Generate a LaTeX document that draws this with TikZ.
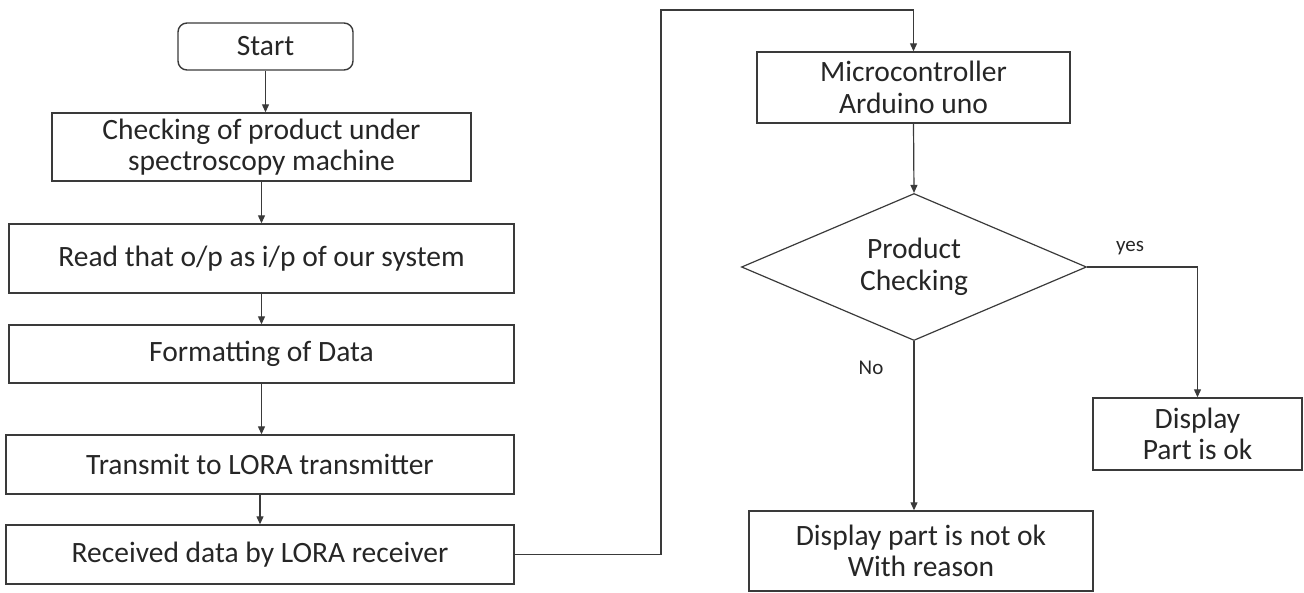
\documentclass[tikz,border=0pt]{standalone}
\usepackage{fontspec}
\setmainfont{Carlito}
\usetikzlibrary{shapes.geometric,arrows.meta}
\definecolor{ln}{HTML}{3A3A3A}
\definecolor{tx}{HTML}{262626}
\tikzset{
  box/.style={draw=ln,line width=1.4pt,rectangle,inner sep=0pt,align=center,text=tx,font=\fontsize{29.5}{31.5}\selectfont},
  rbox/.style={box,rounded corners=9pt},
  dia/.style={draw=ln,line width=1.2pt,diamond,aspect=2.35,inner sep=0pt,align=center,text=tx,font=\fontsize{29.5}{31.5}\selectfont},
  arr/.style={draw=ln,line width=1.2pt,-{Triangle[length=8pt,width=7pt]}},
  lbl/.style={text=tx,font=\fontsize{21}{24}\selectfont,inner sep=0pt}
}
\begin{document}
\begin{tikzpicture}[x=1pt,y=-1pt]
\useasboundingbox (0,0) rectangle (1304,592);
\node[rbox,minimum width=175pt,minimum height=47pt] (start) at (265.5,46.5) {Start};
\node[box,minimum width=419pt,minimum height=68pt] (chk) at (261.5,147) {Checking of product under\\spectroscopy machine};
\node[box,minimum width=505pt,minimum height=69pt] (read) at (261.5,258.5) {Read that o/p as i/p of our system};
\node[box,minimum width=505pt,minimum height=58pt] (fmt) at (261.5,354) {Formatting of Data};
\node[box,minimum width=508pt,minimum height=59pt] (tx) at (260,464.5) {Transmit to LORA transmitter};
\node[box,minimum width=508pt,minimum height=59pt] (rx) at (260,554.5) {Received data by LORA receiver};
\node[box,minimum width=313pt,minimum height=71pt] (mcu) at (913.5,87.5) {Microcontroller\\Arduino uno};
\node[dia,minimum width=345pt,minimum height=147pt] (dec) at (914,267) {Product\\Checking};
\node[box,minimum width=209pt,minimum height=72pt] (ok) at (1197.5,434) {Display\\Part is ok};
\node[box,minimum width=344pt,minimum height=80pt] (nok) at (921,551) {Display part is not ok\\With reason};
\coordinate (c1) at (661,10);
\draw[arr] (start.south) -- (start.south |- chk.north);
\draw[arr] (chk.south) -- (chk.south |- read.north);
\draw[arr] (read.south) -- (read.south |- fmt.north);
\draw[arr] (fmt.south) -- (fmt.south |- tx.north);
\draw[arr] (tx.south) -- (tx.south |- rx.north);
\draw[arr] (rx.east) -| (c1) -| (mcu.north);
\draw[arr] (mcu.south) -- (dec.north);
\draw[arr] (dec.east) -| (ok.north);
\draw[arr] (dec.south) -- (dec.south |- nok.north);
\node[lbl] (yes) at (1130,248) {yes};
\node[lbl] (no) at (871,368) {No};
\end{tikzpicture}
\end{document}
